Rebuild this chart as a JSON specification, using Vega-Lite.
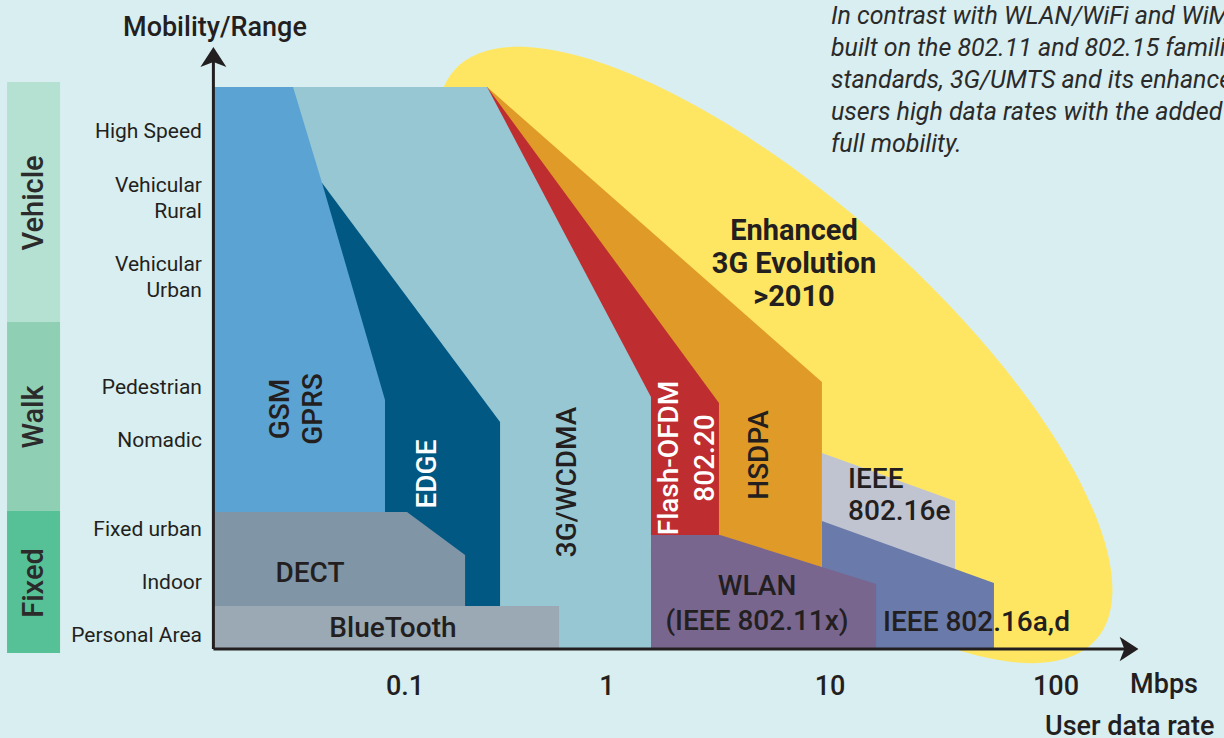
{
  "$schema": "https://vega.github.io/schema/vega-lite/v6.json",
  "width": 1224,
  "height": 738,
  "autosize": {"type": "none"},
  "padding": 0,
  "background": "#d9eef1",
  "config": {"view": {"stroke": null}, "text": {"font": "Roboto", "color": "#231f20"}},
  "datasets": {
    "bands": [
      {"b": "Vehicle", "x": -2.718, "x2": -2.477, "y": 9.433, "y2": 5.433},
      {"b": "Walk", "x": -2.718, "x2": -2.477, "y": 5.433, "y2": 2.283},
      {"b": "Fixed", "x": -2.718, "x2": -2.477, "y": 2.283, "y2": -0.083}
    ],
    "shapes": [
      {"s": "16e", "y": 3.25, "x": 0.986, "x2": 0.986},
      {"s": "16e", "y": 2.45, "x": 0.986, "x2": 1.591},
      {"s": "16e", "y": 1.317, "x": 0.986, "x2": 1.591},
      {"s": "16ad", "y": 2.117, "x": 0.986, "x2": 0.986},
      {"s": "16ad", "y": 1.083, "x": 0.986, "x2": 1.768},
      {"s": "16ad", "y": 0, "x": 0.986, "x2": 1.768},
      {"s": "HSDPA", "y": 9.35, "x": -1.782, "x2": -0.536},
      {"s": "HSDPA", "y": 4.433, "x": -1.782, "x2": 0.986},
      {"s": "HSDPA", "y": 1.333, "x": -1.782, "x2": 0.986},
      {"s": "Flash", "y": 9.35, "x": -1.782, "x2": -0.536},
      {"s": "Flash", "y": 4.083, "x": -1.782, "x2": 0.518},
      {"s": "Flash", "y": 1.883, "x": -1.782, "x2": 0.518},
      {"s": "3G", "y": 9.35, "x": -1.782, "x2": -0.536},
      {"s": "3G", "y": 4.183, "x": -1.782, "x2": 0.209},
      {"s": "3G", "y": 0, "x": -1.782, "x2": 0.209},
      {"s": "EDGE", "y": 7.75, "x": -1.782, "x2": -1.286},
      {"s": "EDGE", "y": 3.767, "x": -1.782, "x2": -0.477},
      {"s": "EDGE", "y": 0.7, "x": -1.782, "x2": -0.477},
      {"s": "GSM", "y": 9.35, "x": -1.782, "x2": -1.418},
      {"s": "GSM", "y": 7.75, "x": -1.782, "x2": -1.286},
      {"s": "GSM", "y": 4.133, "x": -1.782, "x2": -1.0},
      {"s": "GSM", "y": 2.267, "x": -1.782, "x2": -1.0},
      {"s": "DECT", "y": 2.267, "x": -1.782, "x2": -0.9},
      {"s": "DECT", "y": 1.55, "x": -1.782, "x2": -0.636},
      {"s": "DECT", "y": 0.7, "x": -1.782, "x2": -0.636},
      {"s": "BT", "y": 0.7, "x": -1.782, "x2": -0.209},
      {"s": "BT", "y": 0, "x": -1.782, "x2": -0.209},
      {"s": "WLAN", "y": 1.883, "x": 0.209, "x2": 0.523},
      {"s": "WLAN", "y": 1.067, "x": 0.209, "x2": 1.232},
      {"s": "WLAN", "y": 0, "x": 0.209, "x2": 1.232}
    ],
    "axes": [
      {"x": -1.78, "x2": -1.78, "y": -0.017, "y2": 9.77},
      {"x": -1.78, "x2": 2.38, "y": -0.017, "y2": -0.017}
    ],
    "ylabels": [
      {"t": "High Speed", "x": -1.832, "y": 8.6},
      {"t": "Vehicular\nRural", "x": -1.832, "y": 7.7},
      {"t": "Vehicular\nUrban", "x": -1.832, "y": 6.383},
      {"t": "Pedestrian", "x": -1.832, "y": 4.333},
      {"t": "Nomadic", "x": -1.832, "y": 3.45},
      {"t": "Fixed urban", "x": -1.832, "y": 1.967},
      {"t": "Indoor", "x": -1.832, "y": 1.083},
      {"t": "Personal Area", "x": -1.832, "y": 0.2}
    ],
    "bandlabels": [
      {"t": "Vehicle", "x": -2.595, "y": 7.417},
      {"t": "Walk", "x": -2.595, "y": 3.85},
      {"t": "Fixed", "x": -2.595, "y": 1.083}
    ],
    "rotdark": [
      {"t": "GSM\nGPRS", "x": -1.473, "y": 3.983},
      {"t": "3G/WCDMA", "x": -0.168, "y": 2.767},
      {"t": "HSDPA", "x": 0.705, "y": 3.217}
    ],
    "rotwhite": [
      {"t": "EDGE", "x": -0.805, "y": 2.9},
      {"t": "Flash-OFDM\n802.20", "x": 0.295, "y": 3.167}
    ],
    "hlabels": [
      {"t": "DECT", "x": -1.341, "y": 1.233},
      {"t": "BlueTooth", "x": -0.964, "y": 0.317},
      {"t": "WLAN\n(IEEE 802.11x)", "x": 0.691, "y": 1.017}
    ],
    "hlabelsleft": [
      {"t": "IEEE\n802.16e", "x": 1.105, "y": 2.8},
      {"t": "IEEE 802.16a,d", "x": 1.264, "y": 0.417}
    ],
    "xlabels": [
      {"t": "0.1", "x": -0.909, "y": -0.65},
      {"t": "1", "x": 0.009, "y": -0.65},
      {"t": "10", "x": 1.023, "y": -0.65},
      {"t": "100", "x": 2.05, "y": -0.65},
      {"t": "Mbps", "x": 2.541, "y": -0.617},
      {"t": "Mobility/Range", "x": -1.773, "y": 10.333}
    ]
  },
  "encoding": {
    "x": {"field": "x", "type": "quantitative", "scale": {"domain": [-2.75, 2.81364], "nice": false, "zero": false}, "axis": null},
    "y": {"field": "y", "type": "quantitative", "scale": {"domain": [-1.5, 10.8], "nice": false, "zero": false}, "axis": null}
  },
  "layer": [
    {
      "data": {"name": "bands"},
      "mark": {"type": "rect"},
      "encoding": {
        "x2": {"field": "x2"},
        "y2": {"field": "y2"},
        "color": {"field": "b", "type": "nominal", "scale": {"domain": ["Vehicle", "Walk", "Fixed"], "range": ["#b4e1d1", "#8fd0b5", "#56c197"]}, "legend": null}
      }
    },
    {
      "data": {"values": [{"x": 0.773, "y": 4.883}]},
      "mark": {"type": "point", "filled": true, "opacity": 1, "color": "#ffe662", "size": 736164, "angle": 41.6, "strokeWidth": 0,
        "shape": "M -1 0 C -1 -0.2021 -0.5523 -0.366 0 -0.366 C 0.5523 -0.366 1 -0.2021 1 0 C 1 0.2021 0.5523 0.366 0 0.366 C -0.5523 0.366 -1 0.2021 -1 0 Z"}
    },
    {"data": {"name": "shapes"}, "transform": [{"filter": "datum.s === '16e'"}], "mark": {"type": "area", "orient": "horizontal", "color": "#c0c4d1", "opacity": 1}, "encoding": {"x2": {"field": "x2"}}},
    {"data": {"name": "shapes"}, "transform": [{"filter": "datum.s === '16ad'"}], "mark": {"type": "area", "orient": "horizontal", "color": "#6a7aab", "opacity": 1}, "encoding": {"x2": {"field": "x2"}}},
    {"data": {"name": "shapes"}, "transform": [{"filter": "datum.s === 'HSDPA'"}], "mark": {"type": "area", "orient": "horizontal", "color": "#e09a27", "opacity": 1}, "encoding": {"x2": {"field": "x2"}}},
    {"data": {"name": "shapes"}, "transform": [{"filter": "datum.s === 'Flash'"}], "mark": {"type": "area", "orient": "horizontal", "color": "#be2d2f", "opacity": 1}, "encoding": {"x2": {"field": "x2"}}},
    {"data": {"name": "shapes"}, "transform": [{"filter": "datum.s === '3G'"}], "mark": {"type": "area", "orient": "horizontal", "color": "#97c7d3", "opacity": 1}, "encoding": {"x2": {"field": "x2"}}},
    {"data": {"name": "shapes"}, "transform": [{"filter": "datum.s === 'EDGE'"}], "mark": {"type": "area", "orient": "horizontal", "color": "#005883", "opacity": 1}, "encoding": {"x2": {"field": "x2"}}},
    {"data": {"name": "shapes"}, "transform": [{"filter": "datum.s === 'GSM'"}], "mark": {"type": "area", "orient": "horizontal", "color": "#5ba3d2", "opacity": 1}, "encoding": {"x2": {"field": "x2"}}},
    {"data": {"name": "shapes"}, "transform": [{"filter": "datum.s === 'DECT'"}], "mark": {"type": "area", "orient": "horizontal", "color": "#8095a6", "opacity": 1}, "encoding": {"x2": {"field": "x2"}}},
    {"data": {"name": "shapes"}, "transform": [{"filter": "datum.s === 'BT'"}], "mark": {"type": "area", "orient": "horizontal", "color": "#9aa9b3", "opacity": 1}, "encoding": {"x2": {"field": "x2"}}},
    {"data": {"name": "shapes"}, "transform": [{"filter": "datum.s === 'WLAN'"}], "mark": {"type": "area", "orient": "horizontal", "color": "#78668f", "opacity": 1}, "encoding": {"x2": {"field": "x2"}}},
    {
      "data": {"name": "axes"},
      "mark": {"type": "rule", "color": "#231f20", "strokeWidth": 3},
      "encoding": {"x2": {"field": "x2"}, "y2": {"field": "y2"}}
    },
    {
      "data": {"values": [{"x": -1.78, "y": 9.85}]},
      "mark": {"type": "point", "filled": true, "opacity": 1, "color": "#231f20", "size": 676, "angle": 0, "strokeWidth": 0,
        "shape": "M 0 -0.77 L 1 0.77 L 0 0.38 L -1 0.77 Z"}
    },
    {
      "data": {"values": [{"x": 2.382, "y": -0.017}]},
      "mark": {"type": "point", "filled": true, "opacity": 1, "color": "#231f20", "size": 600, "angle": 90, "strokeWidth": 0,
        "shape": "M 0 -0.77 L 1 0.77 L 0 0.38 L -1 0.77 Z"}
    },
    {
      "data": {"name": "ylabels"},
      "mark": {"type": "text", "align": "right", "baseline": "middle", "fontSize": 21, "lineBreak": "\n", "lineHeight": 26},
      "encoding": {"text": {"field": "t"}}
    },
    {
      "data": {"name": "bandlabels"},
      "mark": {"type": "text", "align": "center", "baseline": "middle", "fontSize": 29, "fontWeight": 500, "angle": 270, "color": "#2b2b2b"},
      "encoding": {"text": {"field": "t"}}
    },
    {
      "data": {"name": "rotdark"},
      "mark": {"type": "text", "align": "center", "baseline": "middle", "fontSize": 28, "fontWeight": 500, "angle": 270, "lineBreak": "\n", "lineHeight": 33},
      "encoding": {"text": {"field": "t"}}
    },
    {
      "data": {"name": "rotwhite"},
      "mark": {"type": "text", "align": "center", "baseline": "middle", "fontSize": 28, "fontWeight": 500, "angle": 270, "lineBreak": "\n", "lineHeight": 36, "color": "#ffffff"},
      "encoding": {"text": {"field": "t"}}
    },
    {
      "data": {"name": "hlabels"},
      "mark": {"type": "text", "align": "center", "baseline": "middle", "fontSize": 28, "fontWeight": 500, "lineBreak": "\n", "lineHeight": 35},
      "encoding": {"text": {"field": "t"}}
    },
    {
      "data": {"name": "hlabelsleft"},
      "mark": {"type": "text", "align": "left", "baseline": "middle", "fontSize": 28, "fontWeight": 500, "lineBreak": "\n", "lineHeight": 32},
      "encoding": {"text": {"field": "t"}}
    },
    {
      "data": {"values": [{"t": "Enhanced\n3G Evolution\n>2010", "x": 0.859, "y": 6.95}]},
      "mark": {"type": "text", "align": "center", "baseline": "middle", "fontSize": 29, "fontWeight": "bold", "lineBreak": "\n", "lineHeight": 33},
      "encoding": {"text": {"field": "t"}}
    },
    {
      "data": {"name": "xlabels"},
      "mark": {"type": "text", "align": "center", "baseline": "middle", "fontSize": 27, "fontWeight": 500},
      "encoding": {"text": {"field": "t"}}
    },
    {
      "data": {"values": [{"t": "User data rate", "x": 2.0, "y": -1.317}]},
      "mark": {"type": "text", "align": "left", "baseline": "middle", "fontSize": 27, "fontWeight": 500},
      "encoding": {"text": {"field": "t"}}
    },
    {
      "data": {"values": [{"t": "In contrast with WLAN/WiFi and WiMAX\nbuilt on the 802.11 and 802.15 families of\nstandards, 3G/UMTS and its enhancements offer\nusers high data rates with the added benefit of\nfull mobility.", "x": 1.027, "y": 10.533}]},
      "mark": {"type": "text", "align": "left", "baseline": "middle", "fontSize": 25, "fontStyle": "italic", "lineBreak": "\n", "lineHeight": 32, "color": "#2a2a2a"},
      "encoding": {"text": {"field": "t"}}
    }
  ]
}
